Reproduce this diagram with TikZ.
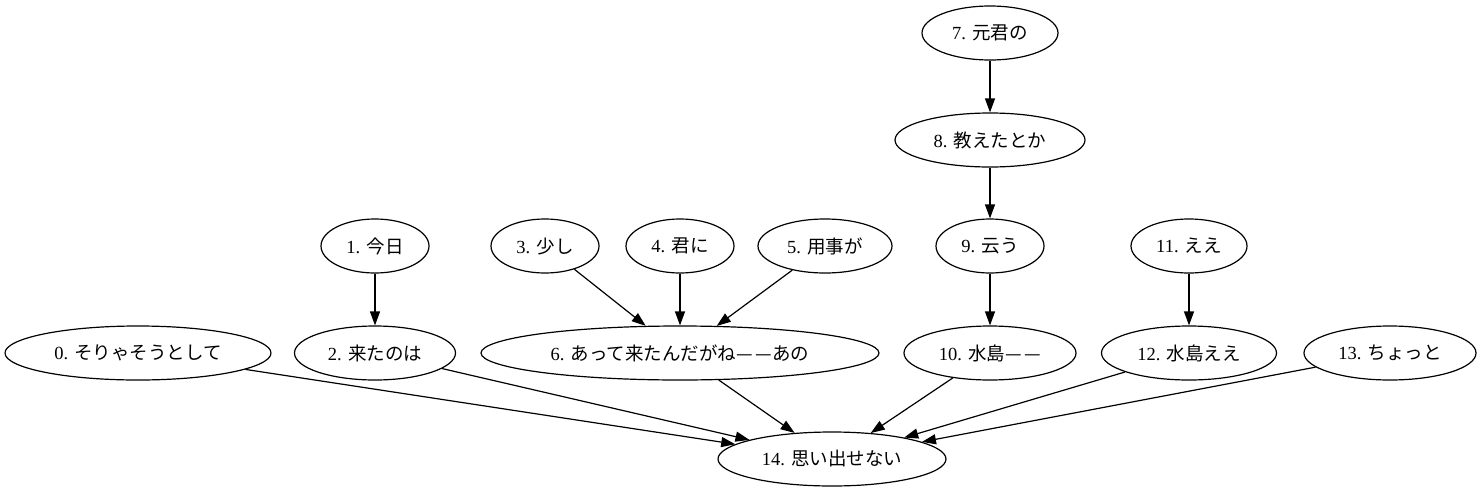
\documentclass[tikz,border=0pt]{standalone}
\usepackage{fontspec}
\setmainfont{Liberation Serif}
\newfontfamily\cjk{Noto Sans CJK JP}
\usetikzlibrary{shapes.geometric,arrows.meta}
\begin{document}
\begin{tikzpicture}[x=1pt, y=-1pt, word/.style={draw, ellipse, line width=1.2pt, inner sep=0pt, minimum height=54pt, font=\fontsize{18.5}{22}\selectfont}, link/.style={-{Triangle[length=14pt, width=10pt]}, line width=1.2pt}]
\useasboundingbox (0,0) rectangle (1483,493);
\node[word, minimum width=136pt] (w7) at (990,33) {7. \cjk 元君の};
\node[word, minimum width=190pt] (w8) at (990,140) {8. \cjk 教えたとか};
\node[word, minimum width=108pt] (w1) at (375,246) {1. \cjk 今日};
\node[word, minimum width=108pt] (w3) at (545,246) {3. \cjk 少し};
\node[word, minimum width=108pt] (w4) at (680,246) {4. \cjk 君に};
\node[word, minimum width=134pt] (w5) at (825,246) {5. \cjk 用事が};
\node[word, minimum width=108pt] (w9) at (990,246) {9. \cjk 云う};
\node[word, minimum width=116pt] (w11) at (1189,246) {11. \cjk ええ};
\node[word, minimum width=266pt] (w0) at (138,353) {0. \cjk そりゃそうとして};
\node[word, minimum width=161pt] (w2) at (375,353) {2. \cjk 来たのは};
\node[word, minimum width=398pt] (w6) at (680,353) {6. \cjk あって来たんだがね—\kern3pt—あの};
\node[word, minimum width=172pt] (w10) at (990,353) {10. \cjk 水島—\kern3pt—};
\node[word, minimum width=175pt] (w12) at (1189,353) {12. \cjk 水島ええ};
\node[word, minimum width=172pt] (w13) at (1390,353) {13. \cjk ちょっと};
\node[word, minimum width=228pt] (w14) at (832,459) {14. \cjk 思い出せない};
\draw[link] (w7) -- (w8);
\draw[link] (w8) -- (w9);
\draw[link] (w9) -- (w10);
\draw[link] (w1) -- (w2);
\draw[link] (w3) -- (w6);
\draw[link] (w4) -- (w6);
\draw[link] (w5) -- (w6);
\draw[link] (w11) -- (w12);
\draw[link] (w0) -- (w14);
\draw[link] (w2) -- (w14);
\draw[link] (w6) -- (w14);
\draw[link] (w10) -- (w14);
\draw[link] (w12) -- (w14);
\draw[link] (w13) -- (w14);
\end{tikzpicture}
\end{document}
